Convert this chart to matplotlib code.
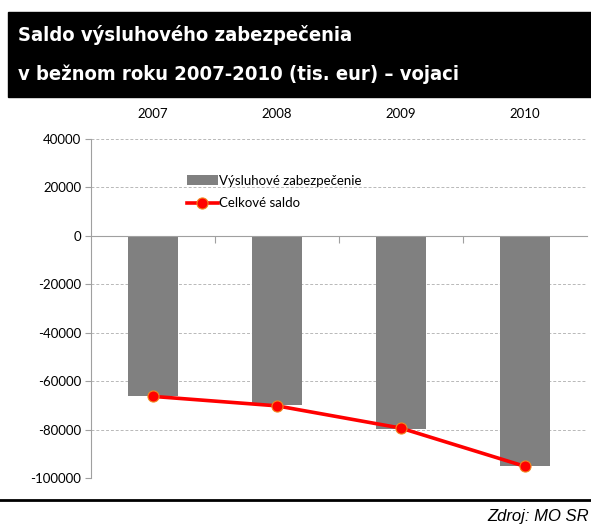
import matplotlib.pyplot as plt
from matplotlib.patches import Rectangle
from matplotlib.lines import Line2D
import matplotlib.transforms as mtransforms

# data
years = ["2007", "2008", "2009", "2010"]
vysluhove = [-66200, -69800, -79700, -95100]
celkove_saldo = [-66300, -70200, -79400, -95200]
y_ticks = [40000, 20000, 0, -20000, -40000, -60000, -80000, -100000]

title_lines = ["Saldo výsluhového zabezpečenia",
               "v bežnom roku 2007-2010 (tis. eur) – vojaci"]
source = "Zdroj: MO SR"

tick_font = "Lato"

fig = plt.figure(figsize=(5.91, 5.26), dpi=100)

# black title box
fig.patches.append(Rectangle((8 / 591, 1 - 97 / 526), 1, 85 / 526,
                             transform=fig.transFigure, color="black", zorder=0))
title_kw = dict(color="white", fontsize=14.5, fontweight="bold", va="center",
                family="DejaVu Sans", fontstretch="condensed")
fig.text(18 / 591, 1 - 35 / 526, title_lines[0], **title_kw)
fig.text(18 / 591, 1 - 74 / 526, title_lines[1], **title_kw)

ax = fig.add_axes([91 / 591, 1 - 478 / 526, 496 / 591, 339 / 526])
x = list(range(len(years)))

bars = ax.bar(x, vysluhove, width=0.4, color="#808080", label="Výsluhové zabezpečenie", zorder=2)
line, = ax.plot(x, celkove_saldo, color="red", lw=2.6, marker="o", markersize=8,
                markerfacecolor="red", markeredgecolor="#f08a20", markeredgewidth=0.8,
                label="Celkové saldo", zorder=3)

ax.set_xlim(-0.5, len(years) - 0.5)
ax.set_ylim(-100000, 40000)
ax.set_yticks(y_ticks)
ax.set_yticklabels([str(v) for v in y_ticks], family=tick_font, fontsize=9.5)
ax.tick_params(axis="y", length=4, color="#a0a0a0", pad=3)
ax.grid(axis="y", linestyle=(0, (3, 2)), color="#b8b8b8", lw=0.7, zorder=0)

for s in ["top", "right"]:
    ax.spines[s].set_visible(False)
ax.spines["left"].set_color("#a0a0a0")
ax.spines["bottom"].set_position(("data", 0))
ax.spines["bottom"].set_color("#a0a0a0")
ax.spines["bottom"].set_zorder(2.5)

# tick marks between categories, labels on top
ax.set_xticks([i + 0.5 for i in x[:-1]])
ax.set_xticklabels([])
ax.tick_params(axis="x", length=5, color="#a0a0a0", direction="out")
trans = mtransforms.blended_transform_factory(ax.transData, fig.transFigure)
for i, yr in zip(x, years):
    ax.text(i, 1 - 114 / 526, yr, transform=trans, ha="center", va="center",
            family=tick_font, fontsize=9.5)

ax.legend(handles=[bars, line], loc="upper left", bbox_to_anchor=(0.17, 0.93), frameon=False,
          prop={"family": tick_font, "size": 9.5}, handlelength=2.3,
          handletextpad=0.1, labelspacing=0.8)

# bottom rule and source
fig.add_artist(Line2D([0, 1], [1 - 500 / 526, 1 - 500 / 526], transform=fig.transFigure,
                      color="black", lw=2))
fig.text(487 / 591, 1 - 517 / 526, source, ha="left", va="center", style="italic",
         fontsize=12, family=["Liberation Sans", "DejaVu Sans"])

fig.savefig("out.png", dpi=100)
